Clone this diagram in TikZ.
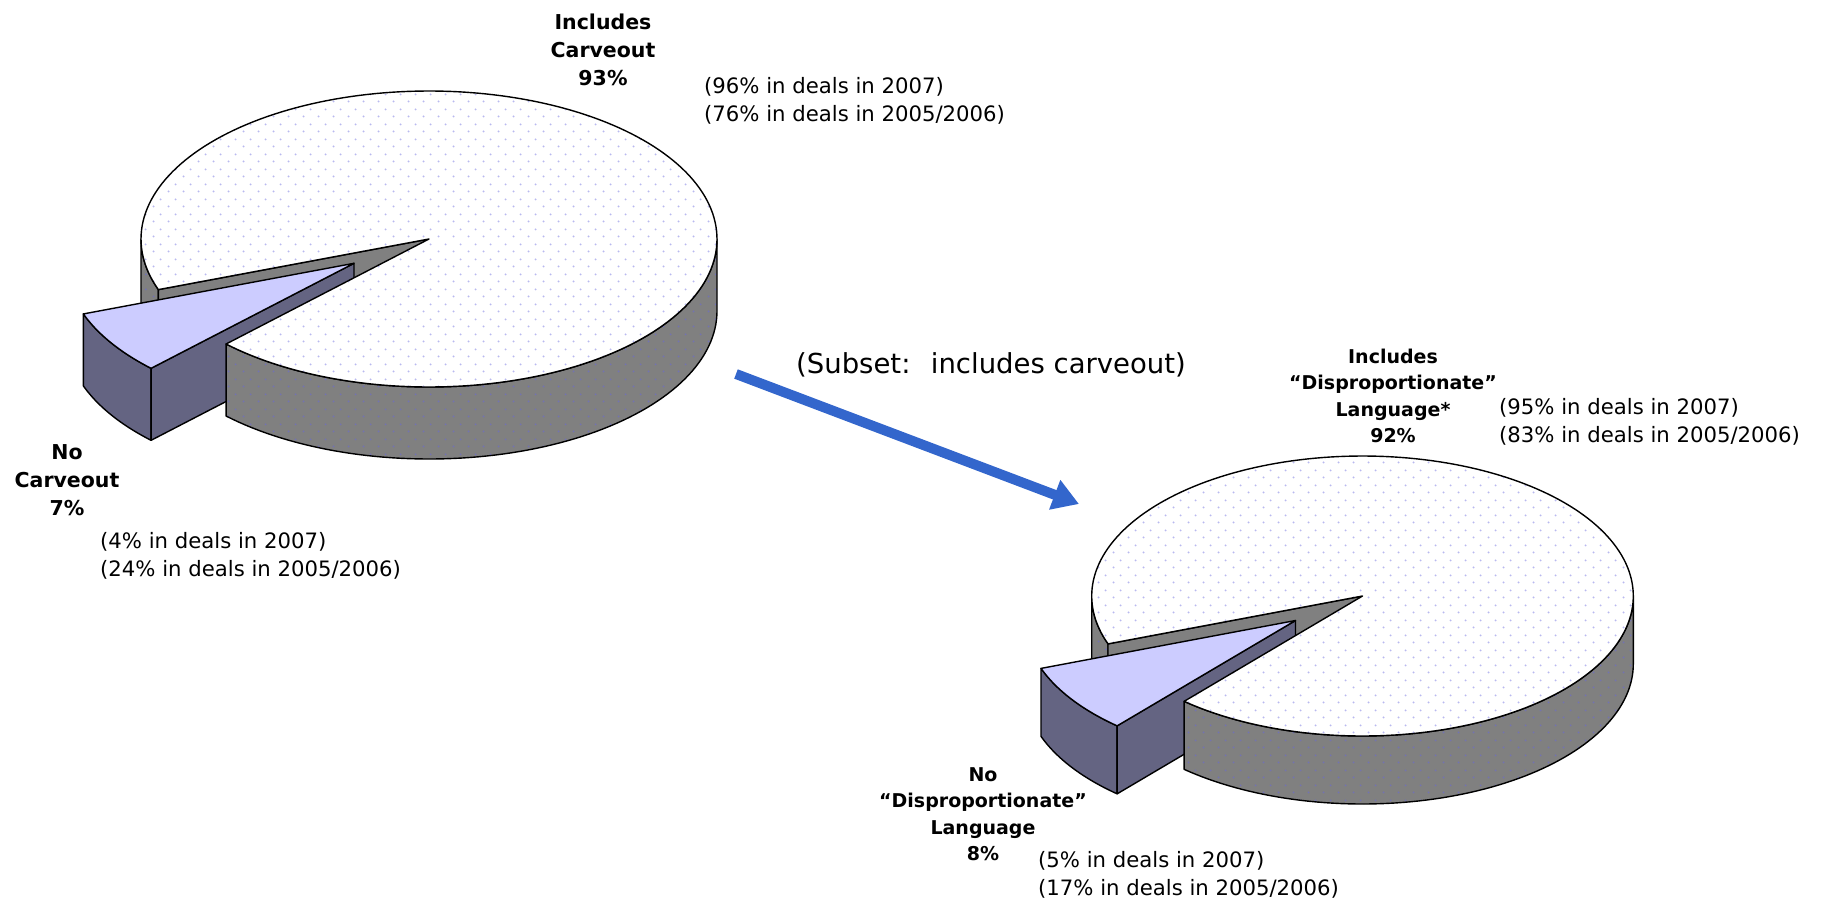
\documentclass[tikz,border=0pt]{standalone}
\usepackage{fontspec}
\setmainfont{DejaVu Sans}
\usetikzlibrary{arrows.meta,patterns.meta}

\definecolor{pieside}{RGB}{128,128,128}
\definecolor{slicetop}{RGB}{204,204,255}
\definecolor{sliceside}{RGB}{100,100,130}
\definecolor{dotlight}{RGB}{185,185,240}
\definecolor{dotdark}{RGB}{115,115,175}
\definecolor{arrowblue}{RGB}{51,102,204}

\tikzdeclarepattern{
  name=pdots,
  bounding box={(0pt,0pt) and (15pt,15pt)},
  tile size={(15pt,15pt)},
  code={
    \fill (3.75pt,3.75pt) circle [radius=1.1pt];
    \fill (11.25pt,11.25pt) circle [radius=1.1pt];
  }
}

% #1 cx, #2 cy, #3 rx, #4 ry, #5 depth, #6 start angle, #7 end angle, #8 ox, #9 oy
\newcommand{\threedpie}[9]{%
  % left piece of outer side
  \path[sideface] plot[domain=180:#6,samples=30] ({#1+#3*cos(\x)},{#2-#4*sin(\x)})
     -- plot[domain=#6:180,samples=30] ({#1+#3*cos(\x)},{#2-#4*sin(\x)+#5}) -- cycle;
  % cut face of the main body
  \path[cutface] (#1,#2) -- ({#1+#3*cos(#6)},{#2-#4*sin(#6)}) -- ++(0,#5) -- (#1,#2+#5) -- cycle;
  % exploded slice: outer side
  \path[slside] plot[domain=#6:#7,samples=30] ({#1+#8+#3*cos(\x)},{#2+#9-#4*sin(\x)})
     -- plot[domain=#7:#6,samples=30] ({#1+#8+#3*cos(\x)},{#2+#9-#4*sin(\x)+#5}) -- cycle;
  % exploded slice: cut face
  \path[slside] (#1+#8,#2+#9) -- ({#1+#8+#3*cos(#7)},{#2+#9-#4*sin(#7)}) -- ++(0,#5)
     -- (#1+#8,#2+#9+#5) -- cycle;
  % exploded slice: top
  \path[sltop] (#1+#8,#2+#9) -- plot[domain=#6:#7,samples=30] ({#1+#8+#3*cos(\x)},{#2+#9-#4*sin(\x)}) -- cycle;
  % main body: front side
  \path[sideface] plot[domain=#7:360,samples=80] ({#1+#3*cos(\x)},{#2-#4*sin(\x)})
     -- plot[domain=360:#7,samples=80] ({#1+#3*cos(\x)},{#2-#4*sin(\x)+#5}) -- cycle;
  % main body: top
  \path[topface] (#1,#2) -- plot[domain=#7:#6+360,samples=200] ({#1+#3*cos(\x)},{#2-#4*sin(\x)}) -- cycle;
}

\begin{document}
\begin{tikzpicture}[x=1pt,y=-1pt,
  edge/.style={draw=black,line width=1.4pt,line join=round},
  topface/.style={preaction={fill=white},pattern=pdots,pattern color=dotlight,edge},
  sideface/.style={preaction={fill=pieside},pattern=pdots,pattern color=dotdark,edge},
  cutface/.style={fill=pieside,edge},
  slside/.style={fill=sliceside,edge},
  sltop/.style={fill=slicetop,edge},
  lblL/.style={font=\fontsize{20.5}{28}\selectfont\bfseries,align=center,inner sep=0pt},
  lblR/.style={font=\fontsize{19}{26.5}\selectfont\bfseries,align=center,inner sep=0pt},
  stat/.style={font=\fontsize{21.2}{27.5}\selectfont,align=left,anchor=west,inner sep=0pt},
  subsettxt/.style={font=\fontsize{27.5}{32}\selectfont,inner sep=0pt},
  bigarrow/.style={draw=arrowblue,line width=10pt,-{Triangle[length=26pt,width=30pt]}}
]
\useasboundingbox (0,0) rectangle (1823,900);

% left pie
\threedpie{429}{239}{288}{148}{72}{200}{225.2}{-75}{24.3}
% right pie
\threedpie{1362.5}{596}{270.8}{140}{68}{200}{228.8}{-67}{24.5}

% labels left pie
\node[lblL] (incL) at (603,50) {Includes\\Carveout\\93\%};
\node[stat] (statL1) at (704,101) {(96\% in deals in 2007)\\(76\% in deals in 2005/2006)};
\node[lblL] (noL) at (67,480) {No\\Carveout\\7\%};
\node[stat] (statL2) at (100,556) {(4\% in deals in 2007)\\(24\% in deals in 2005/2006)};

% subset arrow
\node[subsettxt] (subset) at (991,365) {(Subset:~ includes carveout)};
\coordinate (arrS) at (736,374);
\coordinate (arrE) at (1079,504);
\draw[bigarrow] (arrS) -- (arrE);

% labels right pie
\node[lblR] (incR) at (1393,396) {Includes\\“Disproportionate”\\Language*\\92\%};
\node[stat] (statR1) at (1499,422) {(95\% in deals in 2007)\\(83\% in deals in 2005/2006)};
\node[lblR] (noR) at (983,814) {No\\“Disproportionate”\\Language\\8\%};
\node[stat] (statR2) at (1038,875) {(5\% in deals in 2007)\\(17\% in deals in 2005/2006)};
\end{tikzpicture}
\end{document}
